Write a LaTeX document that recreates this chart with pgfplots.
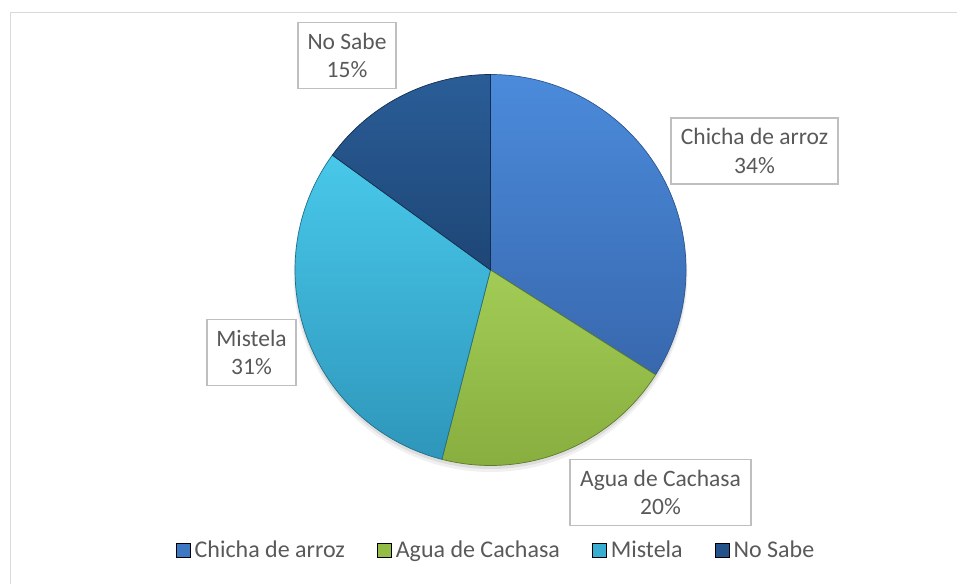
\documentclass[border=0pt]{standalone}
\usepackage{pgfplots}
\pgfplotsset{compat=1.18}
\usepackage{pgfplotstable}
\usepackage{fontspec}
\setmainfont{Carlito}

\definecolor{txt}{HTML}{595959}
\definecolor{frame}{HTML}{D9D9D9}
\definecolor{boxc}{HTML}{BFBFBF}
% slice colours (light top, dark bottom, edge, legend)
\definecolor{cAl}{HTML}{4B8BDB}\definecolor{cAd}{HTML}{3868AE}\definecolor{cAe}{HTML}{2C558E}\definecolor{cA}{HTML}{3E78C4}
\definecolor{cBl}{HTML}{A2CC56}\definecolor{cBd}{HTML}{86AC3D}\definecolor{cBe}{HTML}{5E7A2A}\definecolor{cB}{HTML}{94BD48}
\definecolor{cCl}{HTML}{48C8EA}\definecolor{cCd}{HTML}{2E96BA}\definecolor{cCe}{HTML}{1F6F8A}\definecolor{cC}{HTML}{38AED2}
\definecolor{cDl}{HTML}{2A5D97}\definecolor{cDd}{HTML}{1E4676}\definecolor{cDe}{HTML}{132E4F}\definecolor{cD}{HTML}{24528A}

\pgfplotstableread{
name value
Chicha 34
Agua 20
Mistela 31
NoSabe 15
}\piedata

\pgfplotsset{sq/.style={legend image code/.code={%
  \fill[##1] (0pt,-7.5pt) rectangle (14.5pt,7pt);}}}

\begin{document}
\begin{tikzpicture}
\pgfplotstablegetelem{0}{value}\of\piedata \edef\vA{\pgfplotsretval}
\pgfplotstablegetelem{1}{value}\of\piedata \edef\vB{\pgfplotsretval}
\pgfplotstablegetelem{2}{value}\of\piedata \edef\vC{\pgfplotsretval}
\pgfplotstablegetelem{3}{value}\of\piedata \edef\vD{\pgfplotsretval}
\pgfmathsetmacro\aA{90}
\pgfmathsetmacro\aB{\aA-3.6*\vA}
\pgfmathsetmacro\aC{\aB-3.6*\vB}
\pgfmathsetmacro\aD{\aC-3.6*\vC}
\pgfmathsetmacro\aE{\aD-3.6*\vD}
\def\cx{490.5}\def\cy{313}\def\R{195.5pt}
\begin{axis}[
  x=1pt, y=1pt, xmin=0, xmax=957, ymin=0, ymax=583,
  hide axis, clip=false,
  legend style={at={(axis cs:497,33)}, anchor=center, draw=none, fill=none,
    font=\fontsize{24}{28}\selectfont, text=txt,
    /tikz/every even column/.append style={column sep=28pt},
    nodes={inner sep=2pt, inner xsep=4pt}},
  legend columns=-1,
]
\coordinate (ll) at (axis cs:0,0);
\coordinate (ur) at (axis cs:957,583);
% frame
\draw[frame, line width=1.6pt] (axis cs:10.5,-10) -- (axis cs:10.5,570.5) -- (axis cs:970,570.5);
% shadow
\fill[black, opacity=0.06] (axis cs:\cx,\cy-5) circle[radius=197pt];
\fill[black, opacity=0.08] (axis cs:\cx,\cy-3) circle[radius=196pt];
% slices
\shade[top color=cAl, bottom color=cAd, draw=cAe, line width=0.7pt]
  (axis cs:\cx,\cy) -- ++(\aA:\R) arc[start angle=\aA, end angle=\aB, radius=\R] -- cycle;
\shade[top color=cBl, bottom color=cBd, draw=cBe, line width=0.7pt]
  (axis cs:\cx,\cy) -- ++(\aB:\R) arc[start angle=\aB, end angle=\aC, radius=\R] -- cycle;
\shade[top color=cCl, bottom color=cCd, draw=cCe, line width=0.7pt]
  (axis cs:\cx,\cy) -- ++(\aC:\R) arc[start angle=\aC, end angle=\aD, radius=\R] -- cycle;
\shade[top color=cDl, bottom color=cDd, draw=cDe, line width=0.7pt]
  (axis cs:\cx,\cy) -- ++(\aD:\R) arc[start angle=\aD, end angle=\aE, radius=\R] -- cycle;
% labels
\tikzset{lab/.style={draw=boxc, line width=1.3pt, fill=white, align=center, text=txt,
  font=\fontsize{23.5}{28.5}\selectfont, minimum height=66pt, inner sep=0pt}}
\node[lab, minimum width=167pt] at (axis cs:754.5,432) {Chicha de arroz\\\vA\%};
\node[lab, minimum width=181pt] at (axis cs:660.5,90.5) {Agua de Cachasa\\\vB\%};
\node[lab, minimum width=89pt]  at (axis cs:251.5,230.5) {Mistela\\\vC\%};
\node[lab, minimum width=98pt]  at (axis cs:347,527.5) {No Sabe\\\vD\%};
% legend
\addlegendimage{sq, fill=cA}\addlegendentry{Chicha de arroz}
\addlegendimage{sq, fill=cB}\addlegendentry{Agua de Cachasa}
\addlegendimage{sq, fill=cC}\addlegendentry{Mistela}
\addlegendimage{sq, fill=cD}\addlegendentry{No Sabe}
\end{axis}
\pgfresetboundingbox
\path (ll) rectangle (ur);
\end{tikzpicture}
\end{document}
